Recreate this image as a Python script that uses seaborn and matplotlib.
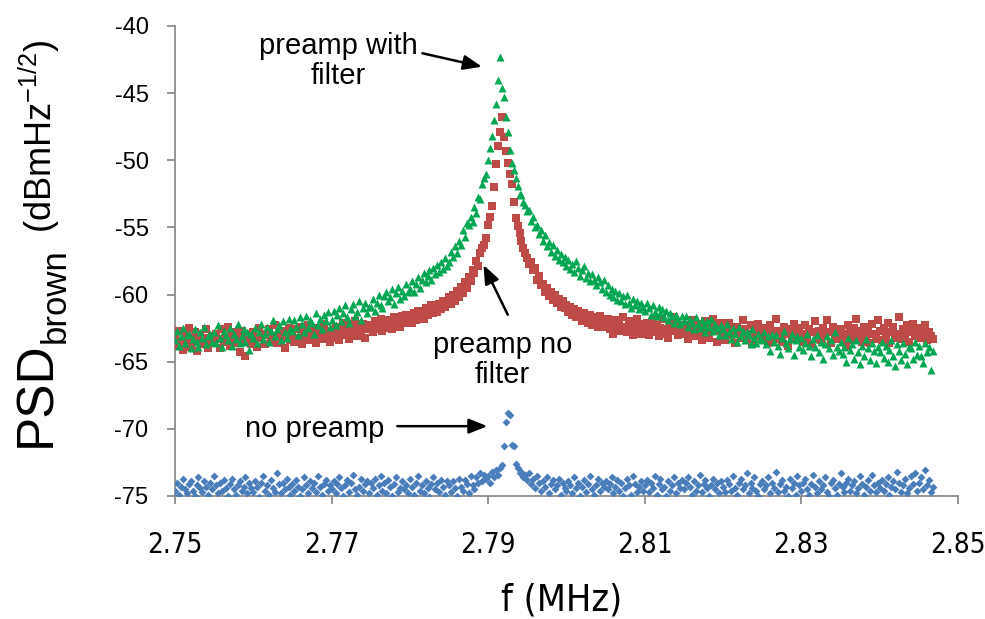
import os
import numpy as np
import pandas as pd
import matplotlib
matplotlib.use("Agg")
import matplotlib.pyplot as plt
import seaborn as sns
from matplotlib import font_manager as fm

# ---------------------------------------------------------------- data
# frequency sweep (MHz): start, step; one reading per step
f_start = 2.75
f_step = 0.00025

# PSD readings (dBm Hz^-1/2), 20 per row = 0.005 MHz per row
no_preamp = [
    -74.6, -74.0, -74.9, -74.3, -73.7, -74.5, -74.8, -74.1, -73.9, -74.6, -75.0, -74.2, -73.6, -74.4, -74.7, -73.9, -74.3, -74.9, -74.0, -74.5,
    -73.5, -74.2, -74.8, -74.0, -74.6, -73.8, -74.4, -75.0, -74.1, -73.7, -74.5, -74.9, -74.2, -73.9, -74.6, -74.3, -73.6, -74.8, -74.0, -74.4,
    -74.7, -73.9, -74.3, -75.1, -74.0, -73.5, -74.6, -74.2, -74.9, -73.8, -74.4, -74.7, -73.3, -74.1, -74.8, -74.0, -74.5, -73.7, -74.3, -74.9,
    -74.1, -74.6, -73.8, -74.3, -75.0, -74.5, -73.6, -74.2, -74.8, -73.9, -74.4, -74.0, -74.7, -73.5, -74.3, -74.9, -74.1, -73.8, -74.6, -74.2,
    -74.5, -73.9, -74.8, -74.1, -73.6, -74.4, -75.0, -74.2, -73.8, -74.7, -74.0, -73.4, -74.5, -74.9, -74.3, -73.7, -74.6, -74.1, -73.9, -74.8,
    -74.0, -74.4, -73.7, -74.9, -74.2, -73.5, -74.6, -74.0, -74.8, -73.8, -74.3, -75.0, -74.1, -73.6, -74.7, -74.4, -73.9, -74.5, -74.2, -74.8,
    -73.7, -74.3, -74.9, -74.0, -73.5, -74.6, -74.2, -74.8, -73.9, -74.4, -75.1, -74.1, -73.6, -74.5, -74.0, -74.7, -73.8, -74.3, -74.9, -73.9,
    -74.2, -74.7, -73.9, -74.4, -75.0, -73.7, -74.3, -74.6, -73.8, -74.1, -74.8, -73.5, -74.2, -74.5, -73.6, -74.0, -73.3, -73.9, -73.4, -73.7,
    -73.5, -74.0, -73.2, -73.6, -73.1, -73.4, -72.9, -72.7, -71.3, -69.5, -68.8, -69.0, -71.2, -71.3, -72.6, -72.9, -73.3, -73.2, -73.6, -73.4,
    -73.8, -73.3, -74.1, -73.7, -74.4, -73.5, -74.0, -74.6, -73.9, -74.3, -73.6, -74.8, -74.1, -73.8, -74.5, -74.2, -73.7, -74.9, -74.0, -74.4,
    -74.6, -73.9, -74.2, -74.8, -73.6, -74.4, -74.0, -75.0, -74.3, -73.8, -74.7, -74.1, -73.5, -74.5, -74.9, -74.2, -73.7, -74.6, -74.0, -74.3,
    -73.9, -74.5, -74.1, -73.6, -74.8, -74.3, -73.8, -74.6, -74.0, -75.0, -74.4, -73.7, -74.2, -74.9, -73.5, -74.1, -74.7, -74.3, -73.9, -74.6,
    -74.2, -73.8, -74.7, -74.0, -74.4, -73.5, -74.9, -74.1, -73.7, -74.5, -74.3, -75.0, -73.9, -74.6, -74.2, -73.6, -74.8, -74.0, -74.4, -73.8,
    -74.5, -74.0, -73.6, -74.3, -74.9, -73.9, -74.6, -74.2, -73.4, -74.7, -74.1, -73.8, -74.4, -75.0, -74.2, -73.7, -74.5, -74.0, -74.8, -73.9,
    -74.3, -74.7, -73.8, -74.1, -74.6, -73.5, -74.4, -74.9, -74.0, -73.7, -74.5, -74.2, -73.3, -74.8, -74.0, -74.4, -73.6, -74.6, -75.0, -74.1,
    -73.9, -74.5, -74.2, -73.6, -74.8, -74.0, -74.4, -73.2, -74.7, -74.1, -73.8, -74.6, -74.3, -75.0, -73.7, -74.4, -74.0, -74.9, -73.5, -74.2,
    -74.6, -74.0, -73.7, -74.5, -74.9, -74.1, -73.4, -74.3, -74.8, -73.9, -74.5, -74.2, -73.6, -74.7, -75.0, -74.0, -73.8, -74.4, -74.9, -74.1,
    -73.3, -74.3, -74.7, -74.0, -73.7, -74.6, -74.2, -73.9, -74.8, -74.4, -73.5, -74.1, -74.9, -74.3, -73.8, -74.6, -73.4, -74.2, -74.7, -74.0,
    -74.4, -73.8, -74.6, -74.1, -73.6, -74.9, -74.3, -73.9, -74.5, -73.2, -74.0, -74.7, -74.2, -73.7, -74.8, -74.4, -73.5, -74.1, -73.3, -74.6,
    -74.0, -73.6, -74.5, -73.1, -74.2, -73.8, -74.7, -74.3,
]

preamp_no_filter = [
    -63.1, -63.8, -62.7, -63.5, -64.1, -63.0, -63.6, -62.5, -63.9, -63.3, -62.8, -64.2, -63.4, -62.9, -63.7, -63.2, -62.6, -64.0, -63.5, -63.1,
    -63.6, -62.9, -63.3, -64.0, -62.6, -63.5, -63.1, -62.4, -63.8, -63.2, -62.8, -63.6, -63.0, -64.3, -62.7, -63.4, -64.6, -63.1, -62.9, -63.7,
    -62.8, -63.4, -63.9, -62.5, -63.2, -62.9, -63.7, -63.0, -62.6, -63.5, -63.1, -62.3, -63.6, -62.9, -63.3, -62.7, -64.0, -63.0, -62.5, -63.4,
    -62.9, -63.5, -62.6, -63.2, -62.4, -63.7, -62.8, -63.1, -62.3, -63.4, -62.7, -63.0, -63.6, -62.5, -62.9, -63.3, -62.2, -63.1, -62.8, -63.5,
    -62.7, -63.2, -62.4, -62.9, -63.4, -62.5, -62.1, -63.0, -62.6, -63.3, -62.3, -62.8, -62.0, -63.1, -62.5, -62.9, -62.2, -63.2, -62.6, -62.4,
    -62.3, -62.8, -62.0, -62.6, -62.2, -61.8, -62.7, -62.3, -61.9, -62.5, -62.1, -62.6, -61.7, -62.2, -61.9, -62.4, -61.6, -62.0, -61.5, -62.1,
    -61.6, -62.1, -61.4, -61.9, -61.2, -61.7, -61.3, -61.8, -61.0, -61.5, -61.2, -60.8, -61.4, -60.9, -61.3, -60.7, -61.1, -60.5, -60.9, -60.6,
    -60.2, -60.7, -60.0, -60.5, -59.7, -60.2, -59.4, -59.9, -59.1, -59.5, -58.7, -59.0, -58.2, -58.4, -57.5, -57.9, -56.9, -56.5, -56.3, -55.8,
    -54.8, -54.2, -53.4, -52.0, -50.3, -48.9, -47.9, -46.8, -48.3, -49.3, -50.2, -51.0, -51.8, -53.1, -54.3, -54.9, -55.4, -56.0, -56.5, -56.9,
    -57.3, -57.7, -57.6, -58.2, -58.0, -58.9, -58.6, -59.3, -59.2, -59.8, -59.5, -60.1, -59.8, -60.4, -60.0, -60.6, -60.3, -60.9, -60.5, -61.0,
    -60.8, -61.3, -60.9, -61.5, -61.1, -61.7, -61.2, -61.6, -62.0, -61.4, -61.8, -62.1, -61.5, -62.3, -61.7, -62.0, -62.4, -61.6, -62.2, -61.9,
    -62.4, -61.8, -62.6, -62.1, -62.9, -61.9, -62.5, -62.2, -62.7, -61.7, -62.4, -62.8, -62.0, -62.6, -63.0, -62.3, -61.8, -62.5, -62.9, -62.2,
    -62.7, -62.1, -63.0, -62.4, -61.9, -62.8, -62.3, -63.1, -62.5, -61.8, -62.9, -62.6, -63.2, -62.2, -62.7, -61.7, -62.5, -63.0, -62.4, -62.8,
    -62.3, -62.9, -63.3, -62.5, -61.9, -62.7, -63.1, -62.2, -62.8, -63.4, -62.6, -62.0, -62.9, -63.2, -62.4, -61.8, -62.7, -63.5, -62.5, -62.1,
    -62.9, -63.4, -62.5, -62.1, -63.0, -62.7, -63.6, -62.4, -62.8, -63.2, -61.9, -62.6, -63.3, -62.9, -62.3, -63.7, -62.6, -63.1, -62.2, -62.8,
    -63.2, -62.5, -62.9, -63.6, -62.3, -62.8, -63.3, -61.8, -62.7, -63.0, -63.5, -62.4, -62.9, -63.8, -62.6, -63.1, -62.2, -62.8, -63.4, -62.5,
    -62.9, -63.5, -62.3, -63.1, -62.6, -63.7, -62.8, -62.0, -63.2, -62.7, -63.4, -62.5, -63.0, -61.9, -62.8, -63.6, -62.4, -63.1, -62.7, -63.3,
    -62.6, -63.2, -62.9, -63.8, -62.3, -62.8, -63.4, -62.5, -61.8, -63.0, -62.7, -63.5, -62.4, -63.1, -62.8, -63.6, -62.2, -62.9, -63.3, -61.9,
    -62.7, -63.4, -62.5, -63.0, -62.1, -63.6, -62.8, -62.4, -63.2, -62.9, -61.7, -63.3, -62.6, -63.0, -62.3, -63.5, -62.8, -62.2, -63.1, -62.7,
    -63.2, -62.5, -63.0, -62.3, -63.4, -62.8, -63.1, -63.3,
]

preamp_with_filter = [
    -63.4, -62.7, -63.8, -63.1, -62.5, -63.6, -63.0, -62.9, -64.0, -63.3, -62.6, -63.5, -63.9, -62.8, -63.2, -62.4, -63.7, -63.1, -62.9, -63.5,
    -62.8, -63.6, -62.3, -63.2, -63.9, -62.7, -63.0, -63.4, -62.5, -63.8, -62.9, -63.3, -62.2, -63.6, -63.1, -62.6, -63.5, -62.8, -64.1, -62.9,
    -63.2, -62.5, -63.6, -62.8, -62.2, -63.3, -62.9, -62.4, -63.5, -62.7, -61.9, -63.1, -62.6, -62.3, -63.4, -62.0, -62.8, -63.2, -61.8, -62.6,
    -62.7, -61.9, -62.4, -63.0, -61.7, -62.2, -62.8, -61.6, -62.5, -61.9, -62.1, -62.9, -61.4, -62.3, -61.8, -62.6, -61.5, -62.0, -61.3, -62.4,
    -61.9, -61.2, -62.3, -61.5, -61.0, -62.0, -61.4, -60.8, -61.7, -62.1, -61.1, -60.7, -61.6, -61.3, -60.5, -61.9, -61.0, -60.6, -61.4, -60.9,
    -60.9, -60.3, -61.2, -60.6, -60.0, -60.8, -61.0, -60.1, -59.8, -60.5, -60.2, -59.6, -60.7, -59.9, -59.4, -60.3, -59.7, -60.1, -59.2, -59.8,
    -59.6, -59.0, -59.8, -59.2, -58.7, -59.5, -58.9, -58.4, -59.1, -58.6, -58.2, -58.9, -58.0, -58.5, -57.8, -58.3, -57.6, -58.1, -57.3, -57.9,
    -57.6, -56.8, -57.2, -56.4, -56.9, -56.0, -56.3, -55.2, -55.7, -54.7, -54.8, -54.2, -54.6, -53.5, -53.9, -52.7, -52.9, -51.8, -51.3, -51.0,
    -50.0, -49.1, -48.2, -47.0, -45.8, -44.0, -42.3, -44.6, -45.3, -46.8, -47.9, -49.2, -50.2, -50.7, -51.3, -51.9, -52.5, -52.6, -53.1, -53.3,
    -53.8, -53.7, -54.5, -54.2, -55.0, -54.8, -55.5, -55.2, -56.0, -55.6, -56.4, -56.1, -56.8, -56.3, -57.1, -56.7, -57.4, -57.0, -57.6, -57.2,
    -57.9, -57.4, -58.1, -57.7, -58.3, -57.5, -58.0, -58.6, -58.2, -57.9, -58.8, -58.4, -59.0, -58.5, -58.9, -59.3, -58.7, -59.1, -59.6, -58.9,
    -59.8, -59.3, -60.0, -59.6, -60.2, -59.7, -60.4, -59.9, -60.5, -60.1, -60.7, -60.0, -60.6, -61.0, -60.3, -60.8, -60.5, -61.1, -60.6, -60.9,
    -61.2, -60.6, -61.0, -61.5, -60.8, -61.3, -61.6, -60.9, -61.4, -61.1, -61.7, -61.2, -61.9, -61.4, -61.6, -62.1, -61.5, -61.8, -62.2, -61.6,
    -62.0, -61.6, -62.4, -61.8, -62.1, -62.6, -61.7, -62.2, -62.5, -61.9, -62.3, -62.8, -62.0, -62.4, -61.8, -62.7, -62.2, -62.5, -63.0, -62.3,
    -62.6, -63.0, -62.2, -62.8, -63.3, -62.5, -62.9, -63.5, -62.4, -63.1, -62.7, -63.4, -62.8, -63.0, -63.7, -62.6, -63.2, -63.6, -62.9, -63.3,
    -63.4, -62.8, -63.7, -63.1, -64.2, -62.9, -63.5, -63.0, -63.8, -64.4, -63.2, -62.7, -63.6, -64.0, -63.3, -62.9, -64.5, -63.4, -63.1, -63.9,
    -63.2, -64.1, -63.6, -62.9, -63.8, -64.6, -63.3, -63.9, -63.0, -64.3, -63.5, -64.8, -63.7, -63.1, -64.0, -63.4, -64.5, -62.8, -63.9, -64.2,
    -63.5, -64.4, -63.9, -65.0, -63.2, -64.1, -63.7, -64.8, -63.4, -64.3, -65.2, -63.8, -64.6, -63.3, -64.0, -64.9, -63.6, -64.2, -65.1, -63.9,
    -64.3, -63.5, -64.7, -63.8, -65.0, -64.1, -63.4, -64.6, -65.3, -63.7, -64.2, -64.9, -63.6, -64.4, -65.2, -63.9, -64.0, -64.8, -63.5, -64.5,
    -63.8, -64.6, -65.1, -63.6, -64.3, -63.9, -65.6, -64.2,
]

x_ticks = [2.75, 2.77, 2.79, 2.81, 2.83, 2.85]
y_ticks = [-75, -70, -65, -60, -55, -50, -45, -40]

# ---------------------------------------------------------------- fonts
SANS = "Liberation Sans"


def narrow_font(size):
    """Condensed sans for the frequency axis, falling back to the plain sans."""
    for entry in fm.fontManager.ttflist:
        if "Liberation Sans Narrow" in entry.name and entry.style == "normal" \
                and entry.weight in (400, "normal", "regular"):
            return fm.FontProperties(fname=entry.fname, size=size)
    for entry in fm.fontManager.ttflist:
        if os.path.basename(entry.fname) == "DejaVuSansCondensed.ttf":
            return fm.FontProperties(fname=entry.fname, size=size)
    return fm.FontProperties(family=SANS, size=size)


sns.set_style("ticks")
plt.rcParams["font.family"] = [SANS, "DejaVu Sans"]
plt.rcParams["mathtext.fontset"] = "custom"
plt.rcParams["mathtext.rm"] = SANS
plt.rcParams["text.color"] = "black"
plt.rcParams["axes.labelcolor"] = "black"
plt.rcParams["xtick.labelcolor"] = "black"
plt.rcParams["ytick.labelcolor"] = "black"


# ---------------------------------------------------------------- plot
def sweep(values):
    return f_start + f_step * np.arange(len(values))


series = [
    ("no preamp", no_preamp, "D", "#4A7EBB", 16),
    ("preamp no filter", preamp_no_filter, "s", "#BE4B48", 28),
    ("preamp with filter", preamp_with_filter, "^", "#00A650", 33),
]

fig = plt.figure(figsize=(9.85, 6.19), dpi=100)
ax = fig.add_axes([175 / 985, 1 - 496 / 619, (958 - 175) / 985, (496 - 26) / 619])

for name, vals, marker, color, size in series:
    df = pd.DataFrame({"f": sweep(vals), "psd": vals})
    sns.scatterplot(data=df, x="f", y="psd", marker=marker, color=color,
                    s=size, linewidth=0, ax=ax, legend=False, zorder=3)

ax.set_xlim(2.75, 2.85)
ax.set_ylim(-75, -40)
ax.set_xticks(x_ticks)
ax.set_yticks(y_ticks)
ax.set_xticklabels([f"{t:.2f}" for t in x_ticks], fontproperties=narrow_font(20),
                   color="black")
ax.set_yticklabels([f"{t:d}" for t in y_ticks], family=SANS, fontsize=17,
                   color="black")
ax.set_xlabel("")
ax.set_ylabel("")

for side in ("top", "right"):
    ax.spines[side].set_visible(False)
for side in ("left", "bottom"):
    ax.spines[side].set_color("#8C8C8C")
    ax.spines[side].set_linewidth(1.3)
ax.tick_params(axis="both", direction="out", color="#8C8C8C", width=1.3,
               length=6, labelcolor="black")
ax.tick_params(axis="x", pad=19)
ax.tick_params(axis="y", pad=13)

# axis titles
fig.text(562 / 985, 1 - 600 / 619, "f (MHz)", fontproperties=narrow_font(27),
         ha="center", va="center", color="black")
fig.text(50 / 985, 1 - 447 / 619, "PSD", fontsize=37, color="black",
         rotation=90, rotation_mode="anchor", ha="left", va="baseline")
fig.text(65 / 985, 1 - 343 / 619, "brown", fontsize=25, color="black",
         rotation=90, rotation_mode="anchor", ha="left", va="baseline")
fig.text(52 / 985, 1 - 233 / 619, r"(dBmHz$^{\mathregular{-1/2}}$)", fontsize=26,
         color="black", rotation=90, rotation_mode="anchor", ha="left",
         va="baseline")

# call-outs
arrow = dict(arrowstyle="-|>,head_length=0.8,head_width=0.32", color="black",
             lw=1.8, mutation_scale=14, shrinkA=0, shrinkB=0)
ax.text(2.7709, -42.6, "preamp with\nfilter", fontsize=21, ha="center",
        va="center", linespacing=1.1, color="black")
ax.annotate("", xy=(2.7892, -43.03), xytext=(2.7816, -42.03), arrowprops=arrow)
ax.text(2.7918, -64.9, "preamp no\nfilter", fontsize=21, ha="center",
        va="center", linespacing=1.1, color="black")
ax.annotate("", xy=(2.7894, -57.8), xytext=(2.7925, -61.5), arrowprops=arrow)
ax.text(2.7679, -70.0, "no preamp", fontsize=21, ha="center", va="center",
        color="black")
ax.annotate("", xy=(2.7899, -69.8), xytext=(2.7784, -69.8), arrowprops=arrow)

fig.savefig("out.png", dpi=100)
